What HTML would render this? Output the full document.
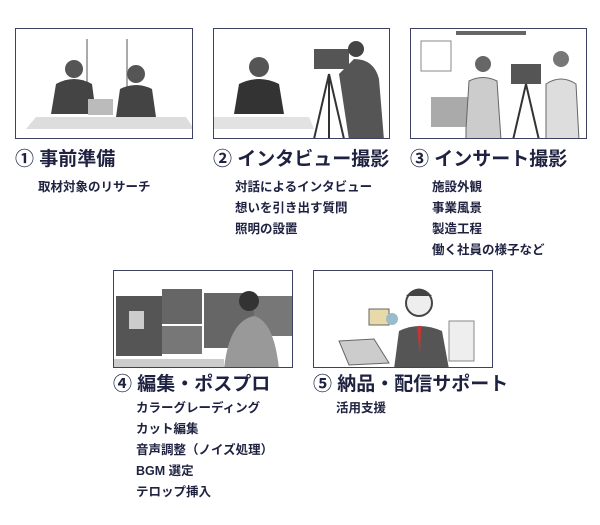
<!DOCTYPE html>
<html><head><meta charset="utf-8"><style>
body{margin:0;width:600px;height:525px;background:#fff;position:relative;overflow:hidden;font-family:"Liberation Sans","Noto Sans CJK JP",sans-serif;color:#1e2240}
.box{position:absolute;border:1px solid #3d4263;background:#fff;box-sizing:border-box;overflow:hidden}
.t{position:absolute;font-size:19px;font-weight:bold;white-space:nowrap;line-height:20px}
.s{position:absolute;font-size:12.5px;font-weight:bold;white-space:nowrap;line-height:21px}
</style></head><body>
<div class="box" style="left:15px;top:28px;width:178px;height:111px">
<svg width="178" height="111"><rect x="70" y="10" width="2" height="60" fill="#aaa"/><rect x="110" y="10" width="2" height="60" fill="#aaa"/>
<circle cx="58" cy="40" r="9" fill="#555"/><path d="M35 85 L40 55 Q58 45 76 55 L80 85Z" fill="#444"/>
<circle cx="120" cy="45" r="9" fill="#555"/><path d="M100 88 L104 60 Q120 52 136 60 L140 88Z" fill="#444"/>
<rect x="72" y="70" width="25" height="16" fill="#bbb"/><path d="M20 88 L170 88 L178 100 L10 100Z" fill="#ddd"/></svg></div>
<div class="box" style="left:213px;top:28px;width:177px;height:111px">
<svg width="177" height="111"><circle cx="45" cy="38" r="10" fill="#555"/><path d="M20 85 L25 55 Q45 45 65 55 L70 85Z" fill="#333"/>
<path d="M0 88 L95 88 L100 100 L0 100Z" fill="#e2e2e2"/><rect x="100" y="20" width="35" height="20" fill="#555"/>
<path d="M115 45 L100 110 M115 45 L115 110 M115 45 L130 110" stroke="#333" stroke-width="2"/>
<circle cx="142" cy="20" r="8" fill="#444"/><path d="M125 45 L140 30 Q160 30 165 50 L170 111 L135 111Z" fill="#555"/></svg></div>
<div class="box" style="left:410px;top:28px;width:177px;height:111px">
<svg width="177" height="111"><rect x="10" y="12" width="30" height="30" fill="none" stroke="#888"/><rect x="45" y="2" width="70" height="4" fill="#666"/>
<rect x="20" y="68" width="40" height="30" fill="#aaa"/><circle cx="72" cy="35" r="8" fill="#666"/><path d="M55 100 L58 52 Q72 45 86 52 L90 111 L55 111Z" fill="#ccc" stroke="#666"/>
<rect x="100" y="35" width="30" height="20" fill="#555"/><path d="M115 55 L102 111 M115 55 L128 111" stroke="#333" stroke-width="2"/>
<circle cx="150" cy="30" r="8" fill="#777"/><path d="M135 55 Q150 45 165 55 L168 111 L135 111Z" fill="#ddd" stroke="#666"/></svg></div>
<div class="t" style="left:15px;top:150px">① 事前準備</div>
<div class="s" style="left:38px;top:177px">取材対象のリサーチ</div>
<div class="t" style="left:213px;top:150px">② インタビュー撮影</div>
<div class="s" style="left:235px;top:177px">対話によるインタビュー<br>想いを引き出す質問<br>照明の設置</div>
<div class="t" style="left:410px;top:150px">③ インサート撮影</div>
<div class="s" style="left:432px;top:177px">施設外観<br>事業風景<br>製造工程<br>働く社員の様子など</div>
<div class="box" style="left:113px;top:270px;width:180px;height:98px">
<svg width="180" height="98"><rect x="2" y="25" width="46" height="60" fill="#555"/><rect x="48" y="18" width="40" height="35" fill="#666"/><rect x="48" y="55" width="40" height="28" fill="#777"/>
<rect x="90" y="22" width="50" height="55" fill="#666"/><rect x="140" y="25" width="38" height="40" fill="#777"/><rect x="15" y="40" width="15" height="18" fill="#ccc"/>
<circle cx="135" cy="30" r="10" fill="#333"/><path d="M110 98 Q115 50 140 45 Q160 50 165 98Z" fill="#999"/><path d="M0 88 L110 88 L110 98 L0 98Z" fill="#ccc"/></svg></div>
<div class="box" style="left:313px;top:270px;width:180px;height:98px">
<svg width="180" height="98"><circle cx="105" cy="32" r="13" fill="#eee" stroke="#444" stroke-width="2"/><path d="M92 25 Q105 10 118 25" fill="#444"/>
<path d="M80 98 L85 60 Q105 50 128 60 L135 98Z" fill="#555"/><path d="M103 55 L107 55 L106 85 Z" fill="#c33"/>
<rect x="55" y="38" width="20" height="16" fill="#e8d9a8" stroke="#666"/><circle cx="78" cy="48" r="6" fill="#9bc"/>
<path d="M25 70 L60 68 L75 92 L35 94Z" fill="#ccc" stroke="#666"/><rect x="135" y="50" width="25" height="40" fill="#eee" stroke="#888"/></svg></div>
<div class="t" style="left:113px;top:375px">④ 編集・ポスプロ</div>
<div class="s" style="left:136px;top:398px">カラーグレーディング<br>カット編集<br>音声調整（ノイズ処理）<br>BGM 選定<br>テロップ挿入</div>
<div class="t" style="left:313px;top:375px">⑤ 納品・配信サポート</div>
<div class="s" style="left:336px;top:398px">活用支援</div>
</body></html>
